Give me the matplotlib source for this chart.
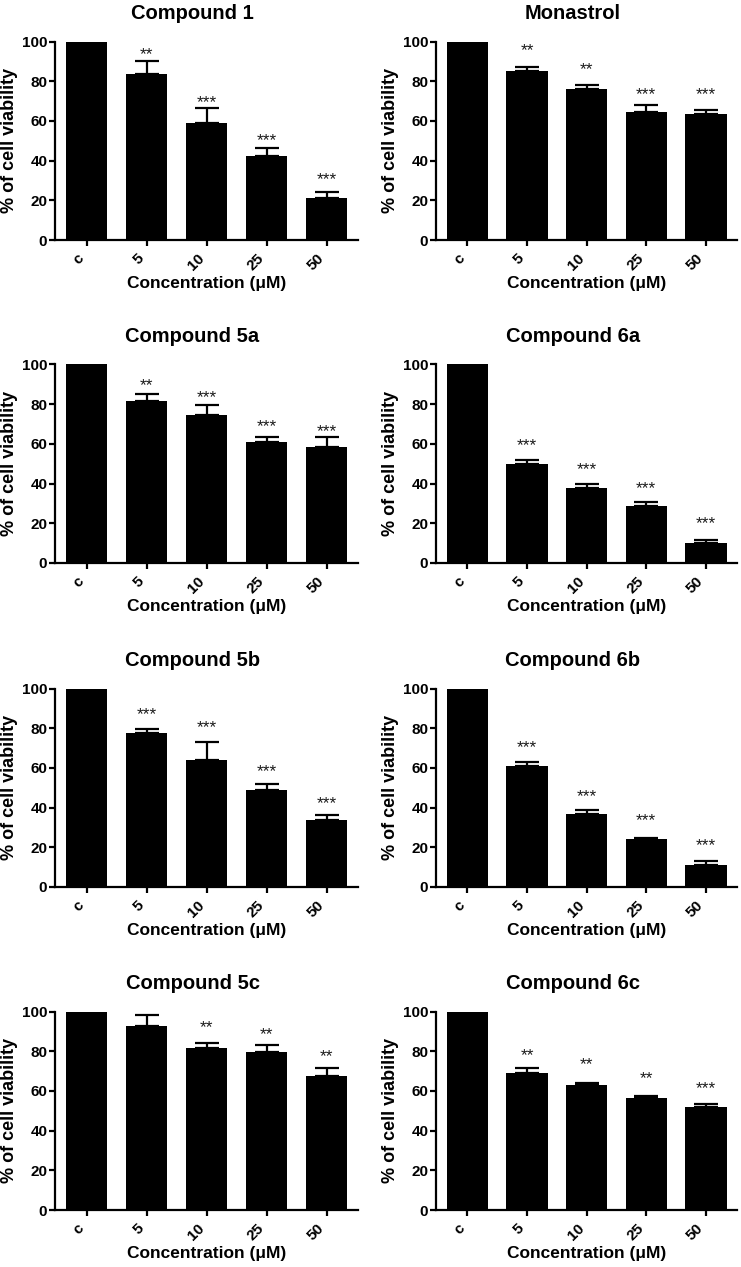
import matplotlib
matplotlib.use("Agg")
import matplotlib.pyplot as plt
import matplotlib.transforms as mtransforms
import numpy as np

plt.rcParams['font.family'] = ['Liberation Sans', 'DejaVu Sans']

categories = ["c", "5", "10", "25", "50"]

titles = ["Compound 1", "Monastrol", "Compound 5a", "Compound 6a",
          "Compound 5b", "Compound 6b", "Compound 5c", "Compound 6c"]

means_c1 = [100, 83.4, 59.0, 42.4, 21.4]
err_c1 = [0, 7.0, 7.7, 4.0, 2.9]
stars_c1 = ["", "**", "***", "***", "***"]
stary_c1 = [None, 95.8, 71.8, 52.9, 33.1]

means_mon = [100, 85.2, 76.1, 64.4, 63.4]
err_mon = [0, 2.2, 2.1, 3.7, 2.1]
stars_mon = ["", "**", "**", "***", "***"]
stary_mon = [None, 97.8, 88.6, 76.0, 76.0]

means_5a = [100, 81.6, 74.5, 60.8, 58.3]
err_5a = [0, 3.5, 5.0, 2.5, 5.2]
stars_5a = ["", "**", "***", "***", "***"]
stary_5a = [None, 92.1, 85.9, 71.2, 69.0]

means_6a = [100, 49.7, 38.0, 28.8, 10.2]
err_6a = [0, 2.4, 1.9, 1.7, 1.2]
stars_6a = ["", "***", "***", "***", "***"]
stary_6a = [None, 61.6, 49.7, 40.2, 22.3]

means_5b = [100, 77.6, 64.0, 49.1, 33.8]
err_5b = [0, 2.0, 8.9, 2.8, 2.7]
stars_5b = ["", "***", "***", "***", "***"]
stary_5b = [None, 89.6, 82.9, 60.6, 44.4]

means_6b = [100, 60.8, 37.0, 24.1, 10.9]
err_6b = [0, 2.3, 2.0, 0.8, 2.0]
stars_6b = ["", "***", "***", "***", "***"]
stary_6b = [None, 72.9, 48.1, 36.0, 23.5]

means_5c = [100, 92.8, 81.8, 79.4, 67.7]
err_5c = [0, 5.4, 2.1, 3.7, 4.0]
stars_5c = ["", "", "**", "**", "**"]
stary_5c = [None, None, 94.5, 91.1, 79.8]

means_6c = [100, 68.9, 63.2, 56.2, 51.7]
err_6c = [0, 2.5, 1.0, 1.3, 1.8]
stars_6c = ["", "**", "**", "**", "***"]
stary_6c = [None, 80.6, 75.8, 68.9, 63.9]

panels = [
    (means_c1, err_c1, stars_c1, stary_c1),
    (means_mon, err_mon, stars_mon, stary_mon),
    (means_5a, err_5a, stars_5a, stary_5a),
    (means_6a, err_6a, stars_6a, stary_6a),
    (means_5b, err_5b, stars_5b, stary_5b),
    (means_6b, err_6b, stars_6b, stary_6b),
    (means_5c, err_5c, stars_5c, stary_5c),
    (means_6c, err_6c, stars_6c, stary_6c),
]

W, H = 741, 1267
fig = plt.figure(figsize=(W / 100, H / 100), dpi=100)

col_x = [55, 436]
col_w = [303, 301]
row_bottom = [240, 563, 887, 1210]
ax_h = 198.5

for i, (title, (m, e, st, sy)) in enumerate(zip(titles, panels)):
    r, c = divmod(i, 2)
    left = col_x[c] / W
    bottom = 1 - row_bottom[r] / H
    ax = fig.add_axes([left, bottom, col_w[c] / W, ax_h / H])
    x = np.arange(len(categories))
    ax.bar(x, m, width=0.69, color="black", zorder=2)
    ax.errorbar(x[1:], m[1:], yerr=[np.zeros(len(e) - 1), e[1:]], fmt="none",
                ecolor="black", elinewidth=1.6, capsize=8.3, capthick=1.6, zorder=3)
    for xi, s, yv in zip(x, st, sy):
        if s:
            ax.annotate(s, (xi, yv), xytext=(0, -7.0), textcoords="offset points",
                        ha="center", va="baseline", fontsize=12.5, color="#1a1a1a")
    ax.set_xlim(-0.525, 4.52)
    ax.set_ylim(0, 100)
    ax.set_yticks([0, 20, 40, 60, 80, 100])
    ax.set_xticks(x)
    ax.set_xticklabels(categories, rotation=45, ha="right", fontsize=11, fontweight="bold")
    offset = mtransforms.ScaledTranslation(4 / 100, 0, fig.dpi_scale_trans)
    for lab in ax.get_xticklabels():
        lab.set_transform(lab.get_transform() + offset)
    for lab in ax.get_yticklabels():
        lab.set_fontsize(11)
        lab.set_fontweight("bold")
    for side in ["top", "right"]:
        ax.spines[side].set_visible(False)
    for side in ["left", "bottom"]:
        ax.spines[side].set_linewidth(1.6)
    ax.tick_params(axis="y", direction="out", width=1.6, length=4, pad=1.5)
    ax.tick_params(axis="x", direction="out", width=1.6, length=4, pad=4)
    ax.set_xlabel("Concentration (μM)", fontsize=12.5, fontweight="bold", labelpad=2)
    ax.set_ylabel("% of cell viability", fontsize=13, fontweight="bold", labelpad=3)
    ax.set_title(title, fontsize=14.5, fontweight="bold", x=0.454, pad=16)

fig.savefig("out.png", dpi=100)
